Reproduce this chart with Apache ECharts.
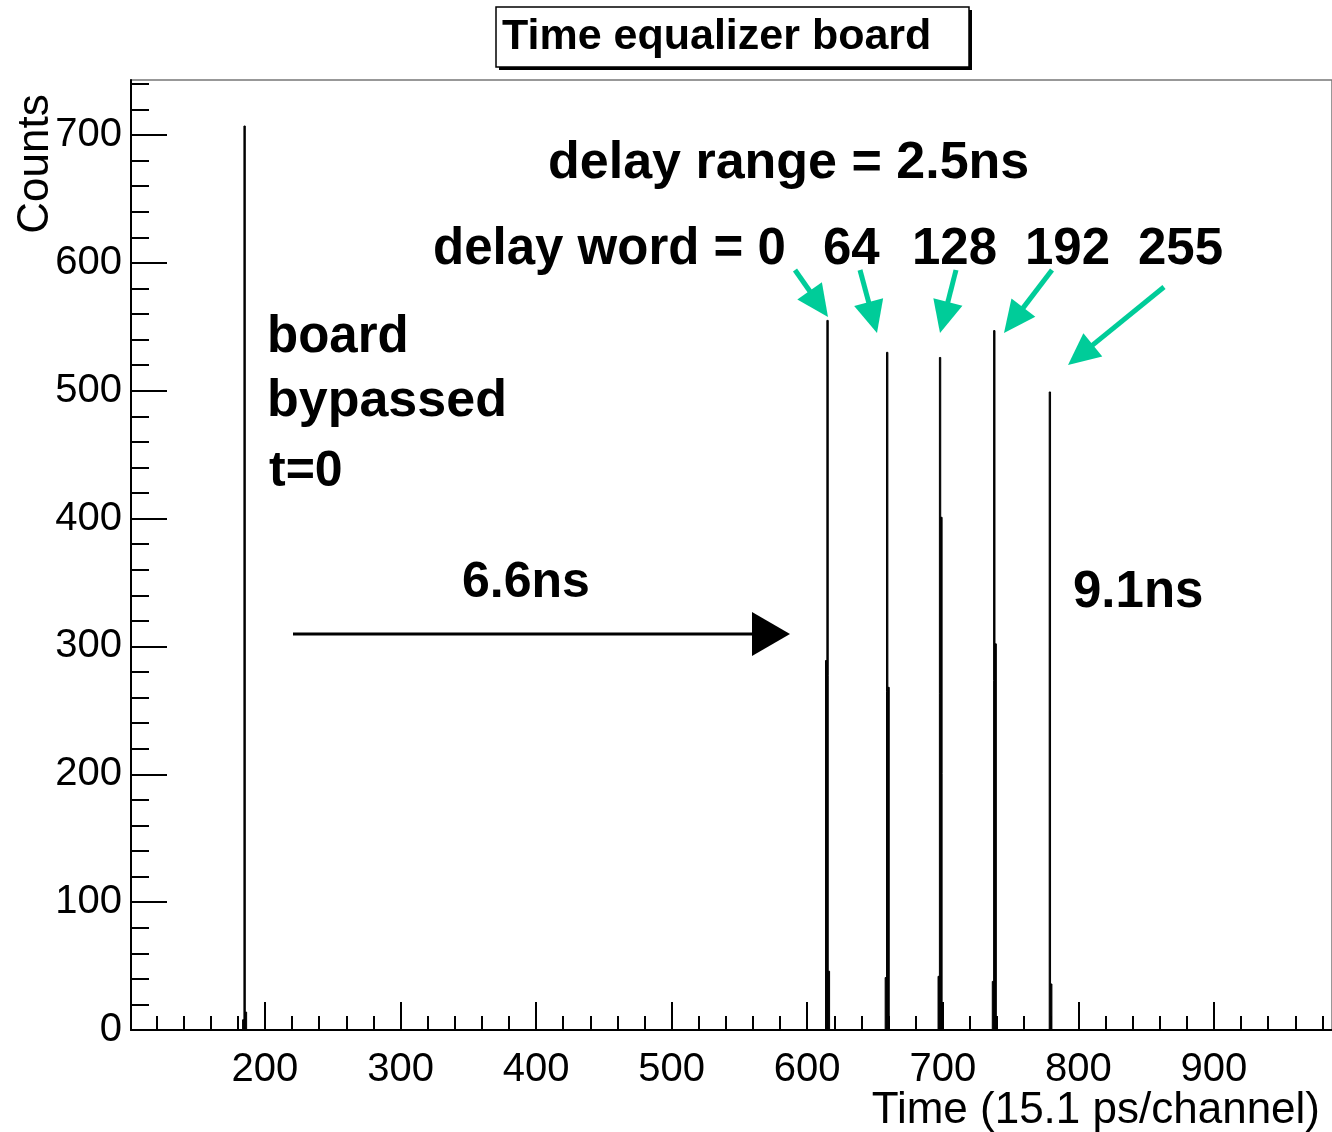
<!DOCTYPE html>
<html>
<head>
<meta charset="utf-8">
<script src="https://cdn.jsdelivr.net/npm/echarts@6/dist/echarts.min.js"></script>
<style>
html,body{margin:0;padding:0;background:#fff;}
#chart{width:1332px;height:1132px;}
</style>
</head>
<body>
<div id="chart"></div>
<script>
// ---- data ----
const channels = [184, 185, 186, 614, 615, 616, 658, 659, 660, 697, 698, 699, 737, 738, 739, 779, 780];
const counts   = [8, 707, 14, 289, 555, 46, 41, 530, 268, 42, 526, 401, 38, 547, 302, 499, 36];
const xTickLabels = [200, 300, 400, 500, 600, 700, 800, 900];
const yTickLabels = [0, 100, 200, 300, 400, 500, 600, 700];
const delayWords = ['64', '128', '192', '255'];
const titleText = 'Time equalizer board';
const xTitle = 'Time (15.1 ps/channel)';
const yTitle = 'Counts';

// ---- axis ranges ----
const X_MIN = 101.2, X_MAX = 987.1;
const Y_MIN = 0, Y_MAX = 743;
const xMinor = [], yMinor = [];
for (let v = 120; v < X_MAX; v += 20) if (v % 100 !== 0) xMinor.push(v);
for (let v = 20; v < Y_MAX; v += 20) if (v % 100 !== 0) yMinor.push(v);

const FONT = "'Liberation Sans', Arial, Helvetica, sans-serif";
const GREEN = '#00CC99';

function arrow(tail, tip, headLen, headHalf, color, lw) {
  const dx = tip[0] - tail[0], dy = tip[1] - tail[1];
  const L = Math.sqrt(dx * dx + dy * dy);
  const ux = dx / L, uy = dy / L;
  const bx = tip[0] - ux * headLen, by = tip[1] - uy * headLen;
  const px = -uy, py = ux;
  return [
    { type: 'line', shape: { x1: tail[0], y1: tail[1], x2: bx + ux * 2, y2: by + uy * 2 },
      style: { stroke: color, lineWidth: lw }, z: 100 },
    { type: 'polygon', shape: { points: [[tip[0], tip[1]], [bx + px * headHalf, by + py * headHalf], [bx - px * headHalf, by - py * headHalf]] },
      style: { fill: color }, z: 100 }
  ];
}

function txt(s, x, y, size, bold, extra) {
  return Object.assign({
    type: 'text', x: x, y: y, z: 100,
    style: { text: s, font: (bold ? 'bold ' : '') + size + 'px ' + FONT, fill: '#000',
             textAlign: 'left', textVerticalAlign: 'middle' }
  }, extra || {});
}

const graphics = [];
// title box with shadow
graphics.push({ type: 'rect', shape: { x: 499, y: 10, width: 473, height: 60 }, style: { fill: '#000' }, z: 90 });
graphics.push({ type: 'rect', shape: { x: 496, y: 7, width: 473, height: 60 }, style: { fill: '#fff', stroke: '#000', lineWidth: 1.5 }, z: 91 });
graphics.push(txt(titleText, 502, 37, 43, true));
// axis titles
graphics.push({ type: 'text', x: 1320, y: 1111, z: 100,
  style: { text: xTitle, font: '44px ' + FONT, fill: '#000', textAlign: 'right', textVerticalAlign: 'middle' } });
graphics.push({ type: 'text', x: 36, y: 164, rotation: Math.PI / 2, z: 100,
  style: { text: yTitle, font: '44px ' + FONT, fill: '#000', textAlign: 'center', textVerticalAlign: 'middle' } });
// annotations
graphics.push(txt('delay range = 2.5ns', 548, 164, 52, true));
graphics.push(txt('delay word = 0', 433, 250, 51, true));
const wordX = [823, 912, 1025, 1138];
delayWords.forEach((w, i) => graphics.push(txt(w, wordX[i], 250, 51, true)));
graphics.push(txt('board', 267, 338, 51, true));
graphics.push(txt('bypassed', 267, 402, 52, true));
graphics.push(txt('t=0', 269, 472, 50, true));
graphics.push(txt('6.6ns', 462, 583, 50, true));
graphics.push(txt('9.1ns', 1073, 593, 51, true));
// arrows
arrow([293, 634], [790, 634], 38, 22, '#000', 3).forEach(g => graphics.push(g));
const greenArrows = [
  [[795, 270], [828, 317]],
  [[860, 270], [877, 333]],
  [[956, 270], [940, 333]],
  [[1052, 270], [1004, 333]],
  [[1164, 287], [1068, 365]]
];
greenArrows.forEach(a => arrow(a[0], a[1], 32, 15, GREEN, 5).forEach(g => graphics.push(g)));

const chart = echarts.init(document.getElementById('chart'), null, { renderer: 'canvas' });
const axisBlack = { color: '#000', width: 2 };
chart.setOption({
  backgroundColor: '#fff',
  animation: false,
  grid: { left: 131, right: 0, top: 80, bottom: 102, show: true, borderColor: '#777', borderWidth: 1.5, backgroundColor: 'transparent' },
  xAxis: [
    { type: 'value', min: X_MIN, max: X_MAX, position: 'bottom',
      axisLine: { show: true, onZero: false, lineStyle: axisBlack },
      axisTick: { show: true, inside: true, length: 28, lineStyle: axisBlack, customValues: xTickLabels },
      axisLabel: { show: true, customValues: xTickLabels, fontSize: 40, fontFamily: FONT, color: '#000', margin: 20 },
      splitLine: { show: false } },
    { type: 'value', min: X_MIN, max: X_MAX, position: 'bottom',
      axisLine: { show: false, onZero: false },
      axisTick: { show: true, inside: true, length: 14, lineStyle: axisBlack, customValues: xMinor },
      axisLabel: { show: false },
      splitLine: { show: false } }
  ],
  yAxis: [
    { type: 'value', min: Y_MIN, max: Y_MAX, position: 'left',
      axisLine: { show: true, onZero: false, lineStyle: axisBlack },
      axisTick: { show: true, inside: true, length: 36, lineStyle: axisBlack, customValues: yTickLabels },
      axisLabel: { show: true, customValues: yTickLabels, fontSize: 40, fontFamily: FONT, color: '#000', margin: 9 },
      splitLine: { show: false } },
    { type: 'value', min: Y_MIN, max: Y_MAX, position: 'left',
      axisLine: { show: false, onZero: false },
      axisTick: { show: true, inside: true, length: 18, lineStyle: axisBlack, customValues: yMinor },
      axisLabel: { show: false },
      splitLine: { show: false } }
  ],
  series: [{
    type: 'custom',
    xAxisIndex: 0, yAxisIndex: 0,
    clip: true,
    data: channels.map((c, i) => [c, counts[i]]),
    renderItem: function (params, api) {
      const c = api.value(0), v = api.value(1);
      const p0 = api.coord([c - 0.5, 0]);
      const p1 = api.coord([c + 0.5, v]);
      return { type: 'rect',
        shape: { x: p0[0], y: p1[1], width: p1[0] - p0[0], height: p0[1] - p1[1] },
        style: { fill: '#000', stroke: '#000', lineWidth: 1 } };
    }
  }],
  graphic: graphics
});
</script>
</body>
</html>
